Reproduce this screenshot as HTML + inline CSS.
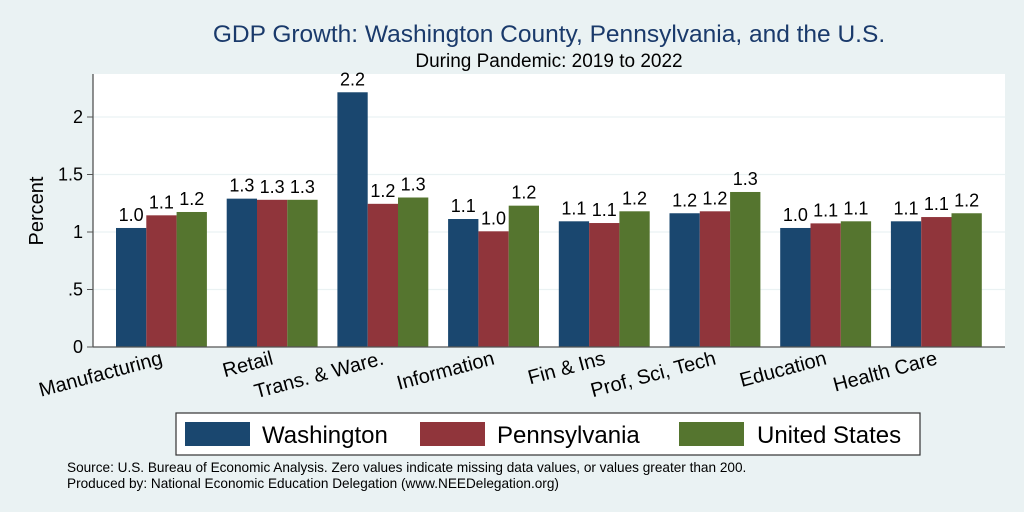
<!DOCTYPE html>
<html><head><meta charset="utf-8"><style>
body{margin:0;background:#eaf2f3;}
svg{display:block;font-family:"Liberation Sans",sans-serif;}
</style></head><body>
<svg id="chart" width="1024" height="512">
<rect x="0" y="0" width="1024" height="512" fill="#eaf2f3"/>
<text x="549" y="42" text-anchor="middle" font-size="24.5" fill="#1a3a6b">GDP Growth: Washington County, Pennsylvania, and the U.S.</text>
<text x="549" y="67" text-anchor="middle" font-size="19" fill="#000">During Pandemic: 2019 to 2022</text>
<rect x="93" y="74" width="912" height="273" fill="#fff"/>
<g id="grid"></g>
<g id="bars"></g>
<g id="axes"></g>
<text transform="translate(43,211) rotate(-90)" text-anchor="middle" font-size="20">Percent</text>
<g>
<rect x="176" y="413" width="744" height="42" fill="#fff" stroke="#333" stroke-width="1.2"/>
<rect x="185" y="422" width="65" height="24" fill="#1a476f"/>
<text x="262" y="443" font-size="24">Washington</text>
<rect x="420" y="422" width="65" height="24" fill="#90353b"/>
<text x="497" y="443" font-size="24">Pennsylvania</text>
<rect x="679" y="422" width="65" height="24" fill="#55752f"/>
<text x="757" y="443" font-size="24">United States</text>
</g>
<text x="67" y="472" font-size="13.6">Source: U.S. Bureau of Economic Analysis. Zero values indicate missing data values, or values greater than 200.</text>
<text x="67" y="488" font-size="13.6">Produced by: National Economic Education Delegation (www.NEEDelegation.org)</text>
</svg>
<script>
const categories = ["Manufacturing","Retail","Trans. & Ware.","Information","Fin & Ins","Prof, Sci, Tech","Education","Health Care"];
const washington = [1.035,1.29,2.215,1.113,1.093,1.163,1.035,1.093];
const pennsylvania = [1.145,1.28,1.245,1.006,1.078,1.18,1.075,1.13];
const unitedStates = [1.174,1.28,1.30,1.229,1.18,1.348,1.093,1.163];
const yTicks = [0,0.5,1,1.5,2];
const yTickLabels = ["0",".5","1","1.5","2"];

const NS="http://www.w3.org/2000/svg";
const x0=93,x1=1005,yBase=347,pxPerUnit=115;
const y=v=>yBase-v*pxPerUnit;
const groupX=i=>116+i*110.7;
const barW=30.3;
function mk(tag,attrs,parent){const e=document.createElementNS(NS,tag);for(const k in attrs)e.setAttribute(k,attrs[k]);parent.appendChild(e);return e;}
const grid=document.getElementById('grid'),bars=document.getElementById('bars'),axes=document.getElementById('axes');
yTicks.forEach((t,i)=>{
  if(t>0){const g=mk('line',{x1:x0,x2:x1,y1:y(t),y2:y(t),stroke:'#eaf2f3','stroke-width':1.2},grid);
  
  }
  const tk=mk('line',{x1:x0-6,x2:x0,y1:y(t),y2:y(t),stroke:'#555','stroke-width':1},axes);
  
  
  const lb=mk('text',{x:x0-10,y:y(t)+6,'text-anchor':'end','font-size':18},axes);
  lb.textContent=yTickLabels[i];
  
  
});
const series=[[washington,'#1a476f','washington'],[pennsylvania,'#90353b','pennsylvania'],[unitedStates,'#55752f','united-states']];
categories.forEach((c,i)=>{
  series.forEach((s,j)=>{
    const v=s[0][i];const bx=groupX(i)+j*barW;
    const r=mk('rect',{x:bx,y:y(v),width:barW,height:yBase-y(v),fill:s[1]},bars);
    
    
    const t=mk('text',{x:bx+barW/2,y:y(v)-7,'text-anchor':'middle','font-size':18},bars);
    t.textContent=(Math.round(v*10+1e-9)/10).toFixed(1);
    
    
  });
  const cx=groupX(i)+barW*1.5+2;
  const lt=mk('text',{transform:`translate(${cx},${yBase+17}) rotate(-15)`,'text-anchor':'end','font-size':20},axes);
  lt.textContent=c;
  
  
});
const ya=mk('line',{x1:x0,x2:x0,y1:74,y2:yBase,stroke:'#555','stroke-width':1.3},axes);


const xa=mk('line',{x1:x0,x2:x1,y1:yBase,y2:yBase,stroke:'#555','stroke-width':1.3},axes);


</script>
</body></html>
